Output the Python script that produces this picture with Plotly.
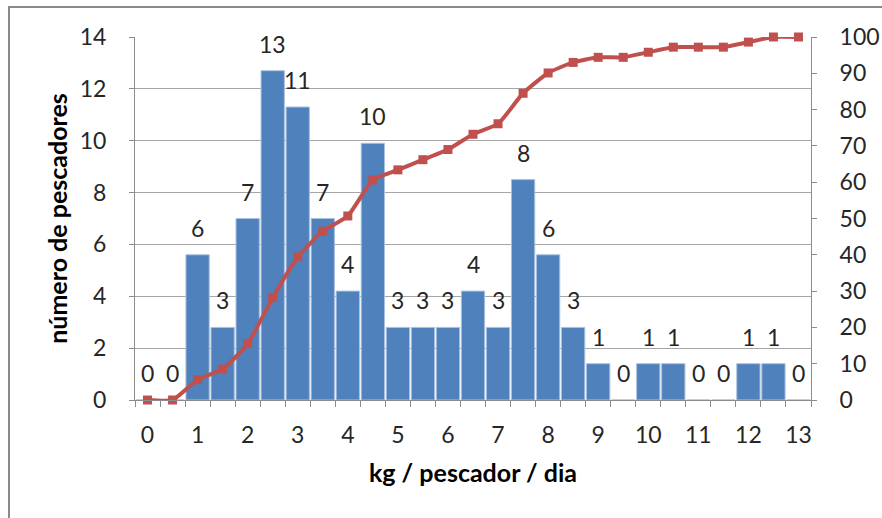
import plotly.graph_objects as go

# ---- data ----
x_pos = [0, 0.5, 1, 1.5, 2, 2.5, 3, 3.5, 4, 4.5, 5, 5.5, 6, 6.5, 7, 7.5,
         8, 8.5, 9, 9.5, 10, 10.5, 11, 11.5, 12, 12.5, 13]
bar_vals = [0, 0, 5.6, 2.8, 7.0, 12.7, 11.3, 7.0, 4.2, 9.9, 2.8, 2.8, 2.8, 4.2,
            2.8, 8.5, 5.6, 2.8, 1.4, 0, 1.4, 1.4, 0, 0, 1.4, 1.4, 0]
bar_labels = ['0', '0', '6', '3', '7', '13', '11', '7', '4', '10', '3', '3', '3',
              '4', '3', '8', '6', '3', '1', '0', '1', '1', '0', '0', '1', '1', '0']
cum_vals = [0, 0, 5.6, 8.5, 15.5, 28.2, 39.4, 46.5, 50.7, 60.6, 63.4, 66.2, 69.0,
            73.2, 76.1, 84.5, 90.1, 93.0, 94.4, 94.4, 95.8, 97.2, 97.2, 97.2,
            98.6, 100, 100]
x_ticks = list(range(0, 14))
y_left_ticks = [0, 2, 4, 6, 8, 10, 12, 14]
y_right_ticks = [0, 10, 20, 30, 40, 50, 60, 70, 80, 90, 100]

FONT = "Lato"
TXT = "#262626"
AX = "#8c8c8c"
GRID = "#a6a6a6"
FS = 23

fig = go.Figure()
fig.add_trace(go.Bar(
    x=x_pos, y=bar_vals,
    marker=dict(color="#4F81BD", line=dict(color="#a9c0de", width=1)),
    showlegend=False, hoverinfo="skip",
))
fig.add_trace(go.Scatter(
    x=x_pos, y=cum_vals, yaxis="y2", mode="lines+markers", cliponaxis=False,
    line=dict(color="#C0504D", width=4, shape="spline", smoothing=0.5),
    marker=dict(symbol="square", size=9, color="#C0504D"),
    showlegend=False, hoverinfo="skip",
))

annotations = []
for xv, yv, lab in zip(x_pos, bar_vals, bar_labels):
    annotations.append(dict(
        x=xv, y=yv, xref="x", yref="y", text=lab, showarrow=False,
        yanchor="bottom", yshift=11, font=dict(family=FONT, size=FS, color=TXT),
    ))

fig.update_layout(
    width=882, height=518,
    margin=dict(l=135, r=71, t=37, b=118, autoexpand=False),
    paper_bgcolor="white", plot_bgcolor="white",
    bargap=0.07,
    font=dict(family=FONT, size=FS, color=TXT),
    annotations=annotations,
    xaxis=dict(
        range=[-0.25, 13.25], tickmode="array", tickvals=x_ticks,
        ticktext=[str(v) for v in x_ticks], ticks="", automargin=False,
        showline=True, linecolor=AX, linewidth=1, showgrid=False, zeroline=False,
        ticklabelstandoff=14,
        minor=dict(tick0=-0.25, dtick=0.5, ticks="outside", ticklen=6,
                   tickcolor=AX, showgrid=False),
        title=dict(text="<b>kg / pescador / dia</b>", standoff=17,
                   font=dict(family=FONT, size=25, color="#000000")),
        tickfont=dict(family=FONT, size=FS, color=TXT),
    ),
    yaxis=dict(
        range=[0, 14], tickvals=y_left_ticks, ticks="outside", ticklen=5,
        tickcolor=AX, showline=True, linecolor=AX, showgrid=True, automargin=False,
        gridcolor=GRID, gridwidth=1, zeroline=False, ticklabelstandoff=18,
        title=dict(text="<b>número de pescadores</b>", standoff=4,
                   font=dict(family=FONT, size=25, color="#000000")),
        tickfont=dict(family=FONT, size=FS, color=TXT),
    ),
    yaxis2=dict(
        range=[0, 100], tickvals=y_right_ticks, overlaying="y", side="right",
        ticks="outside", ticklen=5, tickcolor=AX, showline=True, linecolor=AX,
        showgrid=False, zeroline=False, ticklabelstandoff=18, automargin=False,
        tickfont=dict(family=FONT, size=FS, color=TXT),
    ),
    shapes=[dict(type="rect", xref="paper", yref="paper",
                 x0=(9 - 135) / 676, x1=(890 - 135) / 676,
                 y0=(400 - 530) / 363, y1=(400 - 7) / 363,
                 line=dict(color="#8a8a8a", width=2), layer="below")],
)

fig.write_html("out.html", config={"displayModeBar": False},
               post_script="document.body.style.margin='0';document.body.style.overflow='hidden';")
